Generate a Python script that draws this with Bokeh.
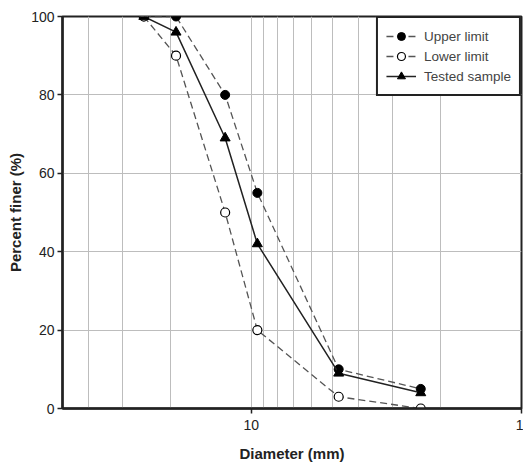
from bokeh.plotting import figure
from bokeh.models import Range1d, FixedTicker, Legend, LegendItem
from bokeh.embed import file_html
from bokeh.resources import INLINE

diameter = [25, 19, 12.5, 9.5, 4.75, 2.36]
upper = [100, 100, 80, 55, 10, 5]
lower = [100, 90, 50, 20, 3, 0]
tested = [100, 96, 69, 42, 9, 4]

x_major = [1, 10]
x_minor = [2, 3, 4, 5, 6, 7, 8, 9, 20, 30, 40]
y_ticks = [0, 20, 40, 60, 80, 100]

FONT = "Liberation Sans"

p = figure(width=523, height=464, x_axis_type="log",
           x_range=Range1d(50, 1), y_range=Range1d(0, 100),
           output_backend="svg", toolbar_location=None,
           min_border_left=62, min_border_right=2, min_border_top=16, min_border_bottom=56)

p.xaxis.ticker = FixedTicker(ticks=x_major, minor_ticks=x_minor)
p.yaxis.ticker = FixedTicker(ticks=y_ticks)
p.xgrid.ticker = FixedTicker(ticks=x_major, minor_ticks=x_minor)
p.xgrid.grid_line_color = "#bdbdbd"
p.xgrid.minor_grid_line_color = "#bdbdbd"
p.ygrid.grid_line_color = "#bdbdbd"
p.xaxis.major_label_overrides = {1: "1", 10: "10"}

for ax in (p.xaxis, p.yaxis):
    ax.axis_line_width = 2.5
    ax.axis_line_color = "#222222"
    ax.major_tick_line_color = "#222222"
    ax.major_tick_line_width = 1.5
    ax.major_tick_out = 5
    ax.major_tick_in = 0
    ax.minor_tick_line_color = None
    ax.major_label_text_font = FONT
    ax.major_label_text_font_size = "14px"
    ax.major_label_text_color = "#222222"
    ax.major_label_standoff = 3
    ax.axis_label_text_font = FONT
    ax.axis_label_text_font_size = "15px"
    ax.axis_label_text_font_style = "bold"
    ax.axis_label_text_color = "#222222"

p.xaxis.major_label_standoff = 6
p.xaxis.axis_label = "Diameter (mm)"
p.yaxis.axis_label = "Percent finer (%)"
p.xaxis.axis_label_standoff = 12
p.yaxis.axis_label_standoff = 4

p.outline_line_color = "#222222"
p.outline_line_width = 2
p.outline_line_alpha = 1

l1 = p.line(diameter, upper, line_color="#555555", line_width=1.3, line_dash="7 4")
m1 = p.scatter(diameter, upper, marker="circle", size=9, fill_color="black", line_color="black")
l2 = p.line(diameter, lower, line_color="#555555", line_width=1.3, line_dash="7 4")
m2 = p.scatter(diameter, lower, marker="circle", size=9, fill_color="white", line_color="black", line_width=1.2)
l3 = p.line(diameter, tested, line_color="#222222", line_width=1.5)
m3 = p.scatter(diameter, tested, marker="triangle", size=10, fill_color="black", line_color="black")

legend = Legend(items=[
    LegendItem(label="Upper limit", renderers=[l1, m1]),
    LegendItem(label="Lower limit", renderers=[l2, m2]),
    LegendItem(label="Tested sample", renderers=[l3, m3]),
], location="top_right")
legend.margin = 0
legend.padding = 8
legend.spacing = 0
legend.label_standoff = 8
legend.label_text_font = FONT
legend.label_text_font_size = "13.5px"
legend.label_height = 20
legend.glyph_height = 20
legend.glyph_width = 30
legend.border_line_color = "#222222"
legend.border_line_width = 2
legend.border_line_alpha = 1
legend.background_fill_alpha = 1
p.add_layout(legend)

open("out.html", "w").write(file_html(p, INLINE))
